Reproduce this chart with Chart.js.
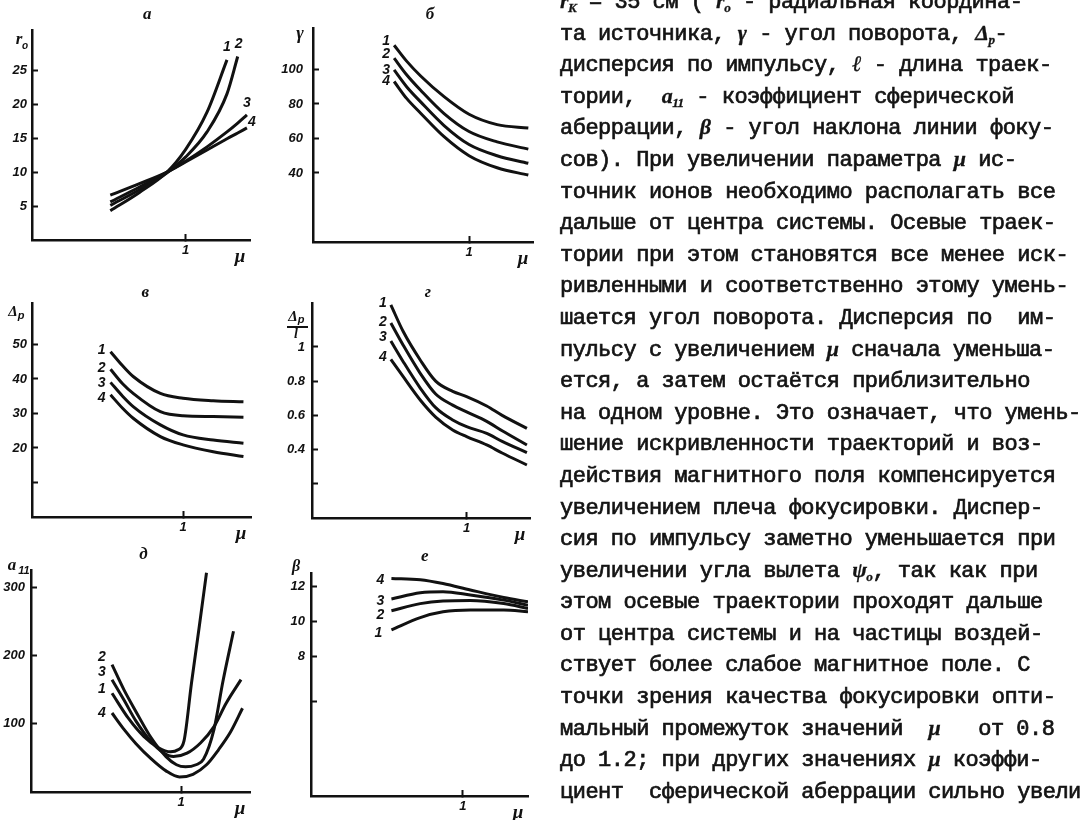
<!DOCTYPE html>
<html>
<head>
<meta charset="utf-8">
<script src="https://cdn.jsdelivr.net/npm/chart.js@4.4.1/dist/chart.umd.min.js"></script>
<style>
  html, body { margin: 0; padding: 0; background: #fff; }
  body { width: 1090px; height: 820px; position: relative; overflow: hidden; }
  canvas { position: absolute; }
  #txt {
    position: absolute; left: 560px; top: -13px;
    font-family: "Liberation Mono", monospace; font-size: 22px; line-height: 31.6px;
    letter-spacing: -0.5px; color: #141414; white-space: pre;
    -webkit-text-stroke: 0.7px #141414;
  }
  #txt div { height: 31.6px; }
  #txt i { font-family: "Liberation Serif", serif; font-style: italic; font-weight: bold; line-height: 0; -webkit-text-stroke: 0.3px #141414; }
  #txt sub { font-size: 0.6em; line-height: 0; vertical-align: -0.3em; }
</style>
</head>
<body>
<canvas id="cA" width="280" height="268" style="left:0;top:0"></canvas>
<canvas id="cB" width="280" height="268" style="left:280px;top:0"></canvas>
<canvas id="cV" width="280" height="278" style="left:0;top:268px"></canvas>
<canvas id="cG" width="280" height="278" style="left:280px;top:268px"></canvas>
<canvas id="cD" width="280" height="274" style="left:0;top:546px"></canvas>
<canvas id="cE" width="280" height="274" style="left:280px;top:546px"></canvas>

<div id="txt"><div><i>r<sub>K</sub></i> = 35 см ( <i>r<sub>o</sub></i> - радиальная координа-</div><div>та источника, <i>γ</i> - угол поворота, <i>Δ<sub>p</sub></i>-</div><div>дисперсия по импульсу, <i>ℓ</i> - длина траек-</div><div>тории,  <i>a<sub>11</sub></i> - коэффициент сферической</div><div>аберрации, <i>β</i> - угол наклона линии фоку-</div><div>сов). При увеличении параметра <i>μ</i> ис-</div><div>точник ионов необходимо располагать все</div><div>дальше от центра системы. Осевые траек-</div><div>тории при этом становятся все менее иск-</div><div>ривленными и соответственно этому умень-</div><div>шается угол поворота. Дисперсия по  им-</div><div>пульсу с увеличением <i>μ</i> сначала уменьша-</div><div>ется, а затем остаётся приблизительно</div><div>на одном уровне. Это означает, что умень-</div><div>шение искривленности траекторий и воз-</div><div>действия магнитного поля компенсируется</div><div>увеличением плеча фокусировки. Диспер-</div><div>сия по импульсу заметно уменьшается при</div><div>увеличении угла вылета <i>ψ<sub>o</sub></i>, так как при</div><div>этом осевые траектории проходят дальше</div><div>от центра системы и на частицы воздей-</div><div>ствует более слабое магнитное поле. С</div><div>точки зрения качества фокусировки опти-</div><div>мальный промежуток значений  <i>μ</i>   от 0.8</div><div>до 1.2; при других значениях <i>μ</i> коэффи-</div><div>циент  сферической аберрации сильно увели</div></div>

<script>
// --- data (x = mu) ---

// а: r0
const aMu1 = [0.51, 0.7, 0.88, 1.0, 1.14, 1.27];
const aR1 = [4.3, 7.0, 10.0, 13.3, 18.8, 26.5];
const aMu2 = [0.51, 0.7, 0.88, 1.0, 1.14, 1.27, 1.34];
const aR2 = [5.1, 7.4, 9.9, 12.2, 15.9, 21.5, 27.0];
const aMu34 = [0.51, 0.7, 0.88, 1.0, 1.14, 1.27, 1.34, 1.4];
const aR3 = [5.6, 7.8, 10.0, 11.6, 13.7, 15.9, 17.2, 18.4];
const aR4 = [6.6, 8.3, 10.0, 11.5, 13.25, 14.9, 15.75, 16.5];
const aTicks = [5, 10, 15, 20, 25];
const aLabels = ['5', '10', '15', '20', '25'];

// б: gamma
const bMu = [0.52, 0.6, 0.69, 0.84, 1.0, 1.18, 1.38];
const bG1 = [114, 104.8, 96.2, 84.2, 74, 68, 66];
const bG2 = [106.5, 96.9, 87.9, 74.4, 64, 58, 53.8];
const bG3 = [99.7, 90, 81.2, 67.5, 56.5, 50, 45.6];
const bG4 = [93, 83.2, 74.6, 61, 50, 43, 38.8];
const bTicks = [40, 60, 80, 100];
const bLabels = ['40', '60', '80', '100'];

// в: dispersion Dp
const vMu = [0.52, 0.6, 0.67, 0.85, 1.0, 1.2, 1.4];
const vD1 = [47.9, 43.8, 40.7, 35.8, 34.4, 33.7, 33.4];
const vD2 = [42.8, 38.6, 35.8, 30.5, 29.3, 29.1, 28.9];
const vD3 = [39, 35, 32, 26.7, 23.8, 22.3, 21.4];
const vD4 = [35.4, 31.5, 28.6, 23.3, 20.9, 18.9, 17.5];
const vTicks = [10, 20, 30, 40, 50];
const vLabels = ['', '20', '30', '40', '50'];

// г: Dp / l
const gMu = [0.51, 0.59, 0.7, 0.8, 0.91, 1.0, 1.13, 1.23, 1.39];
const gD1 = [1.246, 1.09, 0.924, 0.8, 0.74, 0.71, 0.655, 0.6, 0.524];
const gD2 = [1.14, 1.01, 0.846, 0.725, 0.66, 0.62, 0.565, 0.51, 0.427];
const gD3 = [1.035, 0.914, 0.76, 0.645, 0.573, 0.534, 0.495, 0.448, 0.382];
const gD4 = [0.928, 0.826, 0.69, 0.59, 0.515, 0.476, 0.427, 0.38, 0.31];
const gTicks = [0.2, 0.4, 0.6, 0.8, 1];
const gLabels = ['', '0.4', '0.6', '0.8', '1'];

// д: a11
const dMu1 = [0.54, 0.65, 0.75, 0.85, 0.93, 0.98, 1.02, 1.07, 1.12, 1.17];
const dA1 = [145, 108, 82, 65, 59, 62, 75, 160, 240, 322];
const dMu2 = [0.54, 0.62, 0.7, 0.8, 0.9, 0.97, 1.03, 1.1, 1.15, 1.22, 1.28, 1.35];
const dA2 = [187, 150, 118, 80, 52, 40, 37, 40, 48, 92, 163, 236];
const dMu3 = [0.54, 0.62, 0.7, 0.8, 0.88, 0.95, 1.04, 1.13, 1.22, 1.3, 1.4];
const dA3 = [165, 135, 104, 74, 58, 52, 57, 72, 96, 130, 165];
const dMu4 = [0.54, 0.62, 0.7, 0.8, 0.9, 0.99, 1.08, 1.17, 1.25, 1.33, 1.41];
const dA4 = [116, 92, 71, 49, 31, 22, 26, 40, 62, 88, 123];
const dTicks = [100, 200, 300];
const dLabels = ['100', '200', '300'];

// е: beta
const eMu = [0.53, 0.72, 0.87, 1.05, 1.27, 1.43];
const eB1 = [9.5, 10.2, 10.53, 10.63, 10.63, 10.53];
const eB2 = [10.59, 11.0, 11.15, 11.18, 11.0, 10.72];
const eB3 = [11.26, 11.62, 11.68, 11.49, 11.2, 10.91];
const eB4 = [12.44, 12.37, 12.15, 11.78, 11.35, 11.1];
const eTicks = [5.4, 8, 10, 12];
const eLabels = ['', '8', '10', '12'];

const muTicks = [1];
const muLabels = ['1'];

const INK = '#111';
const numFont = { family: 'Liberation Sans', style: 'italic', weight: 'bold', size: 13 };

// letter, mu, axis name and curve numbers drawn round the plot
const notes = {
  id: 'notes',
  afterDraw(chart, args, o) {
    const { ctx, chartArea: a, scales: { x } } = chart;
    ctx.save();
    ctx.fillStyle = INK;
    ctx.strokeStyle = INK;
    ctx.textAlign = 'center';
    ctx.textBaseline = 'middle';
    ctx.font = 'italic bold 17px "Liberation Serif"';
    ctx.fillText(o.title, x.getPixelForValue(0.75), a.top + o.titleDy);
    ctx.font = 'italic bold 19px "Liberation Serif"';
    ctx.fillText('μ', a.right - 10, a.bottom + 17);
    o.yName(ctx, a.left, a.top);
    ctx.font = 'italic bold 14px "Liberation Sans"';
    chart.data.datasets.forEach((ds, i) => {
      const pts = chart.getDatasetMeta(i).data;
      const p = o.at === 'end' ? pts[pts.length - 1] : pts[0];
      ctx.fillText(String(i + 1), p.x + o.off[i][0], p.y + o.off[i][1]);
    });
    ctx.restore();
  }
};

function txt(ctx, s, x, y, size, serif) {
  ctx.font = 'italic bold ' + size + 'px ' + (serif ? '"Liberation Serif"' : '"Liberation Sans"');
  ctx.fillText(s, x, y);
}

function plot(id, box, area, xMax, yMax, yTicks, yLabels, gap, curves, noteOpts) {
  const [L, T, W, H] = box;
  new Chart(document.getElementById(id), {
    type: 'line',
    data: {
      datasets: curves.map(c => ({
        data: c[0].map((v, i) => ({ x: v, y: c[1][i] })),
        borderColor: INK,
        borderWidth: 3,
        pointRadius: 0,
        fill: false,
        cubicInterpolationMode: 'monotone'
      }))
    },
    options: {
      responsive: false,
      animation: false,
      events: [],
      layout: { padding: { top: area[1] - T, right: L + W - area[2], left: 0, bottom: 0 } },
      plugins: { legend: { display: false }, tooltip: { enabled: false }, notes: noteOpts },
      scales: {
        x: {
          type: 'linear', min: 0, max: xMax,
          afterFit: s => { s.height = T + H - area[3]; },
          afterBuildTicks: s => { s.ticks = muTicks.map(v => ({ value: v })); },
          grid: { drawOnChartArea: false, tickLength: -6, tickWidth: 2, tickColor: INK },
          border: { color: INK, width: 2.5 },
          ticks: { callback: (v, i) => muLabels[i], padding: 9, maxRotation: 0, autoSkip: false, color: INK, font: numFont }
        },
        y: {
          min: 0, max: yMax,
          afterFit: s => { s.width = area[0] - L; },
          afterBuildTicks: s => { s.ticks = yTicks.map(v => ({ value: v })); },
          grid: { drawOnChartArea: false, tickLength: -6, tickWidth: 2, tickColor: INK },
          border: { color: INK, width: 2.5 },
          ticks: { callback: (v, i) => yLabels[i], padding: 6 + gap, autoSkip: false, color: INK, font: numFont }
        }
      }
    },
    plugins: [notes]
  });
}

plot('cA', [0, 0, 280, 268], [32, 30, 250, 240], 1.42, 30.9, aTicks, aLabels, 5,
  [[aMu1, aR1], [aMu2, aR2], [aMu34, aR3], [aMu34, aR4]],
  { title: 'а', titleDy: -15, at: 'end', off: [[0, -13], [1, -12], [0, -12], [5, -6]],
    yName: (ctx, l, t) => { txt(ctx, 'r', l - 13, t + 10, 17, true); txt(ctx, 'o', l - 7, t + 16, 10, false); } });

plot('cB', [280, 0, 280, 268], [313, 28, 533, 242], 1.41, 124, bTicks, bLabels, 10,
  [[bMu, bG1], [bMu, bG2], [bMu, bG3], [bMu, bG4]],
  { title: 'б', titleDy: -13, at: 'start', off: [[-8, -4], [-8, -4], [-8, 0], [-8, 0]],
    yName: (ctx, l, t) => { txt(ctx, 'γ', l - 13, t + 6, 18, true); } });

plot('cV', [0, 268, 280, 278], [32, 303, 251, 517], 1.45, 62, vTicks, vLabels, 5,
  [[vMu, vD1], [vMu, vD2], [vMu, vD3], [vMu, vD4]],
  { title: 'в', titleDy: -10, at: 'start', off: [[-9, -2], [-9, -1], [-9, 1], [-9, 3]],
    yName: (ctx, l, t) => { txt(ctx, 'Δ', l - 19, t + 9, 15, true); txt(ctx, 'p', l - 11, t + 13, 11, false); } });

plot('cG', [280, 268, 280, 278], [312, 303, 530, 518], 1.41, 1.257, gTicks, gLabels, 7,
  [[gMu, gD1], [gMu, gD2], [gMu, gD3], [gMu, gD4]],
  { title: 'г', titleDy: -10, at: 'start', off: [[-8, -2], [-8, -1], [-8, -4], [-8, -2]],
    yName: (ctx, l, t) => {
      txt(ctx, 'Δ', l - 19, t + 14, 15, true);
      txt(ctx, 'p', l - 11, t + 17, 11, false);
      ctx.lineWidth = 2;
      ctx.beginPath(); ctx.moveTo(l - 25, t + 24); ctx.lineTo(l - 4, t + 24); ctx.stroke();
      txt(ctx, 'l', l - 16, t + 31, 14, true);
    } });

plot('cD', [0, 546, 280, 274], [31, 570, 250, 792], 1.46, 326, dTicks, dLabels, 6,
  [[dMu1, dA1], [dMu2, dA2], [dMu3, dA3], [dMu4, dA4]],
  { title: 'д', titleDy: -15, at: 'start', off: [[-10, -4], [-10, -8], [-10, -7], [-10, 0]],
    yName: (ctx, l, t) => { txt(ctx, 'a', l - 19, t - 4, 17, true); txt(ctx, '11', l - 7, t + 1, 11, false); } });

plot('cE', [280, 546, 280, 274], [311, 573, 528, 796], 1.43, 12.75, eTicks, eLabels, 6,
  [[eMu, eB1], [eMu, eB2], [eMu, eB3], [eMu, eB4]],
  { title: 'е', titleDy: -16, at: 'start', off: [[-13, 3], [-11, 4], [-11, 2], [-11, 2]],
    yName: (ctx, l, t) => { txt(ctx, 'β', l - 15, t - 6, 16, true); } });
</script>
</body>
</html>
